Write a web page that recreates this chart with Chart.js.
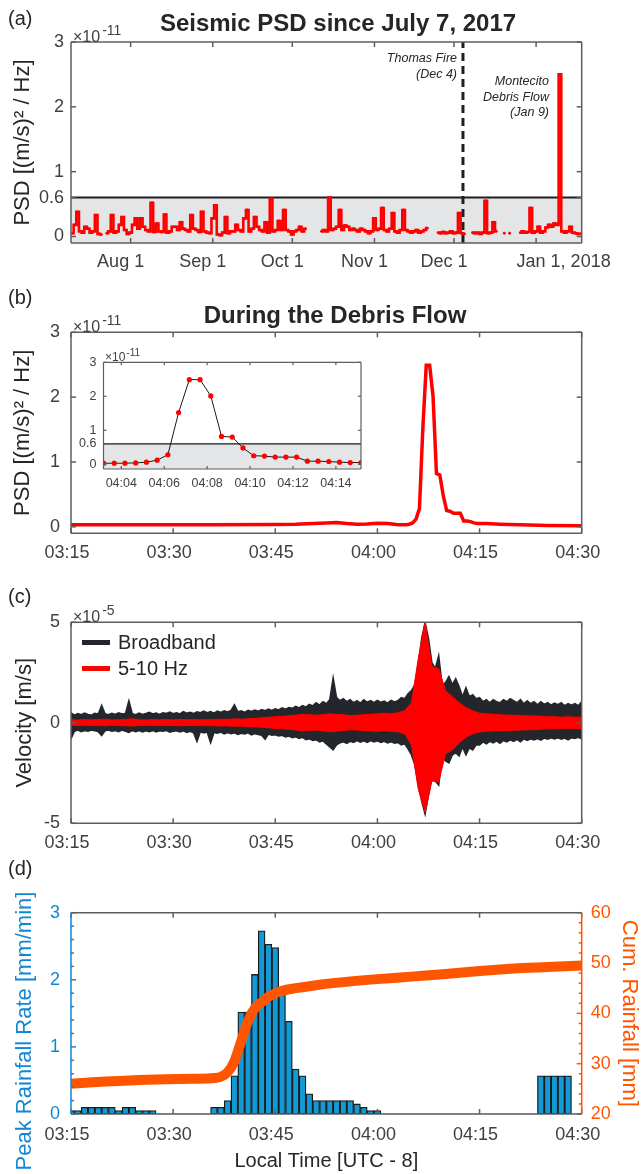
<!DOCTYPE html>
<html>
<head>
<meta charset="utf-8">
<title>Seismic PSD and rainfall, Montecito debris flow</title>
<script src="https://cdn.jsdelivr.net/npm/chart.js@4.4.1/dist/chart.umd.min.js"></script>
<style>
  body { margin: 0; background: #fff; font-family: "Liberation Sans", Arial, sans-serif; color: #262626; }
  #page { position: relative; width: 642px; height: 1174px; overflow: hidden; }
  canvas { position: absolute; left: 0; }
  .txt { position: absolute; white-space: nowrap; line-height: 1; }
  .panel { font-size: 20px; left: 8px; }
  .title { font-size: 24px; font-weight: bold; transform: translateX(-50%); }
  .exp { font-size: 16px; color: #404040; }
  .exp sup { font-size: 14px; vertical-align: 7px; margin-left: 2px; }
  .exp.small { font-size: 12px; }
  .exp.small sup { font-size: 10px; vertical-align: 5px; margin-left: 1px; }
  .note { font-size: 12.5px; font-style: italic; text-align: right; }
  .leg { font-size: 20px; left: 82px; top: 629px; line-height: 26px; }
  .leg i { display: inline-block; width: 28px; height: 5px; vertical-align: middle; margin: -3px 8px 0 0; }
  .vtitle { font-size: 22px; transform: translate(-50%, -50%) rotate(-90deg); }
</style>
</head>
<body>
<div id="page">
  <canvas id="chartA" width="642" height="285" style="top:0"></canvas>
  <canvas id="chartB" width="642" height="285" style="top:290px"></canvas>
  <canvas id="chartInset" width="330" height="145" style="top:350px;left:40px"></canvas>
  <canvas id="chartC" width="642" height="280" style="top:580px"></canvas>
  <canvas id="chartD" width="642" height="304" style="top:870px"></canvas>

  <div class="txt panel" style="top:8px">(a)</div>
  <div class="txt panel" style="top:287px">(b)</div>
  <div class="txt panel" style="top:586px">(c)</div>
  <div class="txt panel" style="top:858px">(d)</div>

  <div class="txt title" style="left:338px;top:11px">Seismic PSD since July 7, 2017</div>
  <div class="txt title" style="left:335px;top:303px">During the Debris Flow</div>

  <div class="txt exp" style="left:73px;top:23px">×10<sup>-11</sup></div>
  <div class="txt exp" style="left:73px;top:313px">×10<sup>-11</sup></div>
  <div class="txt exp" style="left:73px;top:603px">×10<sup>-5</sup></div>
  <div class="txt exp small" style="left:105px;top:348px">×10<sup>-11</sup></div>

  <div class="txt note" style="right:185px;top:50px;line-height:16px">Thomas Fire<br>(Dec 4)</div>
  <div class="txt note" style="right:93px;top:74px;line-height:15.5px">Montecito<br>Debris Flow<br>(Jan 9)</div>

  <div class="txt leg">
    <div><i style="background:#23262b"></i>Broadband</div>
    <div><i style="background:#ff0000"></i>5-10 Hz</div>
  </div>

  <div class="txt vtitle" style="left:24px;top:1031px;color:#1287d4">Peak Rainfall Rate [mm/min]</div>
</div>

<script>
// ---- (a) daily seismic PSD, x10^-11 (m/s)^2/Hz, days counted from Jul 1 2017
const dailyStartDay = 9;
const dailyPsd = [
  0.05, 0.18, 0.38, 0.08, 0.06, 0.15, 0.12, 0.06, 0.08, 0.33,
  0.04, 0.03, null, 0.05, 0.08, 0.33, 0.06, 0.08, 0.18, 0.30,
  0.10, 0.04, 0.06, 0.18, 0.28, 0.12, 0.28, 0.15, 0.10, 0.08,
  0.52, 0.07, 0.20, 0.08, 0.07, 0.34, 0.06, 0.08, 0.15, 0.15,
  0.10, 0.22, 0.12, 0.10, 0.08, 0.33, 0.12, 0.10, 0.07, 0.38,
  0.08, 0.06, 0.05, 0.28, 0.48, 0.03, 0.02, 0.06, 0.30, 0.05,
  0.08, 0.08, 0.18, 0.10, 0.08, 0.28, 0.41, 0.08, 0.12, 0.30,
  0.15, 0.10, 0.08, 0.22, 0.06, 0.58, 0.08, 0.10, 0.24, 0.10,
  0.41, 0.10, 0.08, 0.03, 0.08, 0.10, 0.15, 0.08, 0.12, null,
  null, null, null, null, 0.08, 0.10, 0.08, 0.60, 0.10, 0.12,
  0.15, 0.41, 0.10, 0.17, 0.15, 0.10, 0.12, 0.10, 0.08, 0.12,
  0.10, 0.08, 0.05, 0.08, 0.28, 0.10, 0.12, 0.44, 0.10, 0.08,
  0.12, 0.36, 0.08, 0.06, 0.10, 0.41, 0.10, 0.08, 0.06, 0.08,
  0.10, 0.06, 0.08, 0.10, 0.13, null, null, null, 0.06, 0.05,
  0.07, 0.05, 0.06, 0.08, 0.05, 0.06, 0.36, 0.05, 0.04, null,
  null, 0.06, 0.05, 0.06, 0.04, 0.06, 0.55, 0.05, 0.06, 0.22,
  0.08, null, null, 0.05, null, 0.05, null, null, null, 0.06,
  0.08, 0.06, 0.07, 0.44, 0.06, 0.08, 0.15, 0.06, 0.08, 0.14,
  0.18, 0.15, 0.20, 0.18, 2.50, 0.08, 0.06, 0.08, 0.15, 0.06,
  0.05, 0.04, 0.04
];
const dayMin = 8.5, dayMax = 201.2;
const monthTickDays = [31, 62, 92, 123, 153, 184];
const monthTickLabels = ['Aug 1', 'Sep 1', 'Oct 1', 'Nov 1', 'Dec 1',
  '\u00a0'.repeat(15) + 'Jan 1, 2018'];
const thomasFireDay = 156.4;
const psdThreshold = 0.6;
const psdTicks = [0, 0.6, 1, 2, 3];
const psdTickLabels = ['0', '0.6', '1', '2', '3'];

// ---- (b) PSD during the event, minutes after 03:15
const psdEarlyMin = [0, 10, 20, 30, 33, 35.5, 37.5, 39, 40.5, 42, 43.5, 45, 46.5, 47.5];
const psdEarly = [0.03, 0.03, 0.03, 0.035, 0.04, 0.05, 0.06, 0.065, 0.05, 0.04, 0.045, 0.055, 0.05, 0.04];
// 30 s samples shown in the inset (minutes after 04:00)
const insetStartMin = 3.17;
const insetStep = 0.5;
const insetPsd = [0.03, 0.03, 0.03, 0.04, 0.06, 0.12, 0.28, 1.52, 2.49, 2.49,
  2.01, 0.82, 0.80, 0.48, 0.25, 0.24, 0.21, 0.21, 0.21, 0.09,
  0.09, 0.08, 0.06, 0.05, 0.05];
const psdLateMin = [61, 63, 66, 70, 75];
const psdLate = [0.05, 0.04, 0.03, 0.02, 0.015];
const insetTickMin = [4, 6, 8, 10, 12, 14];
const insetTickLabels = ['04:04', '04:06', '04:08', '04:10', '04:12', '04:14'];

const timeTicks = [0, 15, 30, 45, 60, 75];
const timeTickLabels = ['03:15', '03:30', '03:45', '04:00', '04:15', '04:30'];

// ---- (c) velocity envelopes, x10^-5 m/s from 03:15
// broadband: one value every 30 s
const bbStep = 0.5;
const bbUpper = [
  0.50, 0.38, 0.46, 0.40, 0.48, 0.42, 0.38, 0.47, 0.44, 0.87, 0.45, 0.40, 0.47, 0.42, 0.50, 0.44, 0.46, 1.10, 0.45, 0.40,
  0.48, 0.42, 0.46, 0.52, 0.44, 0.48, 0.42, 0.50, 0.46, 0.53, 0.45, 0.50, 0.44, 0.56, 0.48, 0.52, 0.46, 0.55, 0.50, 0.58,
  0.50, 0.56, 0.48, 0.58, 0.52, 0.60, 0.54, 0.62, 0.90, 0.55, 0.60, 0.52, 0.62, 0.56, 0.64, 0.58, 0.66, 0.60, 0.68, 0.62,
  0.70, 0.64, 0.74, 0.68, 0.76, 0.72, 0.82, 0.74, 0.86, 0.78, 0.92, 0.84, 1.00, 0.88, 1.05, 0.95, 1.15, 2.25, 1.25, 1.10,
  1.20, 1.05, 1.15, 1.00, 1.10, 0.98, 1.15, 1.02, 1.10, 1.00, 1.12, 1.02, 1.08, 0.98, 1.12, 1.04, 1.10, 1.25, 1.20, 1.45,
  1.60, 1.90, 2.90, 4.20, 5.00, 4.20, 3.00, 2.70, 3.35, 1.90, 2.00, 2.30, 1.90, 2.20, 1.80, 1.30, 1.75, 1.30, 1.40, 1.20,
  1.25, 1.05, 1.15, 1.00, 1.15, 1.05, 1.00, 1.15, 1.05, 1.20, 1.10, 1.00, 1.15, 0.95, 1.10, 0.95, 1.05, 0.90, 1.05, 0.92,
  1.00, 0.88, 0.98, 0.90, 1.00, 0.85, 0.95, 0.88, 0.95, 0.85, 1.05
];
const bbLower = [
  -0.80, -0.42, -0.36, -0.44, -0.38, -0.42, -0.36, -0.40, -0.44, -0.63, -0.40, -0.36, -0.42, -0.38, -0.44, -0.36, -0.42, -0.48, -0.38, -0.44,
  -0.38, -0.45, -0.40, -0.44, -0.38, -0.46, -0.40, -0.42, -0.38, -0.47, -0.42, -0.40, -0.46, -0.40, -0.48, -0.42, -0.50, -0.93, -0.45, -0.50,
  -0.46, -1.00, -0.48, -0.52, -0.46, -0.55, -0.48, -0.54, -0.50, -0.58, -0.52, -0.56, -0.50, -0.60, -0.54, -0.58, -0.62, -0.82, -0.56, -0.62,
  -0.60, -0.66, -0.62, -0.70, -0.66, -0.74, -0.70, -0.78, -0.72, -0.84, -0.80, -0.88, -0.84, -0.95, -0.90, -1.05, -1.20, -1.35, -1.10, -1.00,
  -0.95, -1.02, -0.92, -0.98, -0.88, -0.96, -0.90, -0.98, -0.88, -0.95, -0.90, -0.98, -0.92, -1.00, -0.94, -1.02, -0.98, -1.10, -1.05, -1.30,
  -1.60, -2.10, -3.10, -3.90, -4.55, -3.60, -2.70, -2.90, -3.10, -1.70, -1.90, -2.00, -1.60, -1.50, -1.65, -1.20, -1.60, -1.25, -1.35, -1.10,
  -1.10, -0.95, -1.05, -0.92, -1.00, -0.90, -1.02, -0.88, -0.95, -0.85, -0.92, -0.82, -0.95, -0.80, -0.88, -0.80, -0.85, -0.78, -0.86, -0.76,
  -0.82, -0.75, -0.80, -0.74, -0.82, -0.76, -0.85, -0.74, -0.78, -0.72, -0.80
];
// 5-10 Hz band: one value per minute
const hfUpper = [
  0.15, 0.14, 0.16, 0.15, 0.16, 0.18, 0.14, 0.15, 0.17, 0.20,
  0.15, 0.14, 0.16, 0.15, 0.16, 0.15, 0.17, 0.15, 0.16, 0.15,
  0.17, 0.16, 0.18, 0.17, 0.20, 0.18, 0.20, 0.22, 0.25, 0.28,
  0.30, 0.32, 0.35, 0.38, 0.42, 0.40, 0.38, 0.40, 0.45, 0.42,
  0.40, 0.36, 0.38, 0.40, 0.42, 0.45, 0.48, 0.45, 0.50, 0.60,
  1.00, 3.20, 5.00, 2.80, 2.70, 1.60, 1.30, 1.00, 0.75, 0.60,
  0.48, 0.45, 0.42, 0.40, 0.38, 0.38, 0.36, 0.35, 0.34, 0.33,
  0.30, 0.30, 0.28, 0.30, 0.28, 0.28
];
const hfLower = [
  -0.13, -0.14, -0.12, -0.13, -0.14, -0.15, -0.12, -0.13, -0.15, -0.16,
  -0.13, -0.12, -0.14, -0.13, -0.14, -0.13, -0.15, -0.13, -0.14, -0.13,
  -0.15, -0.14, -0.16, -0.15, -0.18, -0.16, -0.18, -0.20, -0.22, -0.25,
  -0.28, -0.30, -0.33, -0.36, -0.40, -0.38, -0.36, -0.40, -0.45, -0.42,
  -0.38, -0.35, -0.36, -0.38, -0.40, -0.42, -0.40, -0.42, -0.45, -0.55,
  -1.10, -3.30, -4.45, -2.90, -2.95, -1.55, -1.35, -1.00, -0.72, -0.55,
  -0.46, -0.42, -0.40, -0.40, -0.38, -0.38, -0.36, -0.35, -0.34, -0.32,
  -0.30, -0.30, -0.30, -0.28, -0.30, -0.28
];
const velTicks = [-5, 0, 5];
const velTickLabels = ['-5', '0', '5'];

// ---- (d) rainfall: peak rate per minute (mm/min) and cumulative (mm)
const rainRate = [
  0.05, 0.05, 0.10, 0.10, 0.10, 0.10, 0.10, 0.05, 0.10, 0.10,
  0.05, 0.05, 0.05, 0, 0, 0, 0, 0, 0, 0,
  0, 0.10, 0.10, 0.20, 0.57, 1.52, 1.52, 2.08, 2.73, 2.53,
  2.48, 1.87, 1.38, 0.67, 0.57, 0.30, 0.20, 0.20, 0.20, 0.20,
  0.20, 0.20, 0.15, 0.10, 0.05, 0.05, 0, 0, 0, 0,
  0, 0, 0, 0, 0, 0, 0, 0, 0, 0,
  0, 0, 0, 0, 0, 0, 0, 0, 0, 0.57,
  0.57, 0.57, 0.57, 0.57, 0, 0
];
const cumMin = [0, 3, 6, 10, 14, 18, 21, 22, 23, 24, 25, 26, 27, 28, 29, 30, 31, 33, 36, 40, 45, 50, 55, 60, 65, 70, 75];
const cumRain = [26.0, 26.3, 26.5, 26.75, 26.9, 27.0, 27.15, 27.4, 28.3, 30.5, 34.5, 38.5, 41.0, 42.2, 43.3, 44.0, 44.5, 45.0, 45.6, 46.2, 46.8, 47.3, 47.8, 48.4, 48.9, 49.2, 49.5];
const rateTicks = [0, 1, 2, 3];
const cumTicks = [20, 30, 40, 50, 60];

const AXIS = '#5e5e5e';
const BLUE = '#1287d4';
const ORANGE = '#ff5500';

Chart.defaults.font.family = '"Liberation Sans", Arial, Helvetica, sans-serif';
Chart.defaults.color = '#404040';
Chart.defaults.animation = false;
Chart.defaults.events = [];
Chart.defaults.plugins.legend.display = false;
Chart.defaults.plugins.tooltip.enabled = false;

// MATLAB-like box: frame plus inward ticks on all sides
const matlabBox = {
  id: 'matlabBox',
  afterDatasetsDraw(chart, args, o) {
    const { ctx, chartArea: a } = chart;
    const xs = chart.scales.x;
    ctx.save();
    ctx.lineWidth = o.width;
    const seg = (c, x1, y1, x2, y2) => {
      ctx.strokeStyle = c;
      ctx.beginPath(); ctx.moveTo(x1, y1); ctx.lineTo(x2, y2); ctx.stroke();
    };
    xs.ticks.forEach(t => {
      const p = xs.getPixelForValue(t.value);
      seg(o.color, p, a.bottom, p, a.bottom - o.len);
      seg(o.color, p, a.top, p, a.top + o.len);
    });
    o.sides.forEach(sd => {
      const s = chart.scales[sd.scale];
      const edge = sd.side === 'left' ? a.left : a.right;
      const dir = sd.side === 'left' ? 1 : -1;
      s.ticks.forEach(t => {
        const p = s.getPixelForValue(t.value);
        seg(sd.color, edge, p, edge + dir * o.len, p);
      });
      (sd.minor || []).forEach(v => {
        const p = s.getPixelForValue(v);
        seg(sd.color, edge, p, edge + dir * o.len * 0.6, p);
      });
    });
    seg(o.color, a.left, a.top, a.right, a.top);
    seg(o.color, a.left, a.bottom, a.right, a.bottom);
    seg(o.leftColor || o.color, a.left, a.top, a.left, a.bottom);
    seg(o.rightColor || o.color, a.right, a.top, a.right, a.bottom);
    ctx.restore();
  }
};

function fixTicks(values) {
  return s => { s.ticks = values.map(v => ({ value: v })); };
}
function fitX(h) {
  return s => { s.height = h; s.paddingLeft = 0; s.paddingRight = 0; };
}
function fitY(w) {
  return s => { s.width = w; s.paddingTop = 0; s.paddingBottom = 0; };
}
function labelFrom(values, labels) {
  return v => labels[values.indexOf(v)];
}
function timeAxis(h, pad) {
  return {
    type: 'linear', min: 0, max: 75, offset: false,
    grid: { display: false, drawTicks: false }, border: { display: false },
    afterBuildTicks: fixTicks(timeTicks), afterFit: fitX(h),
    ticks: { autoSkip: false, maxRotation: 0, padding: pad, labelOffset: -4,
      font: { size: 18 }, callback: labelFrom(timeTicks, timeTickLabels) }
  };
}
function yTitle(text, pad, color) {
  return { display: true, text: text, color: color || '#262626', font: { size: 22 }, padding: { top: pad, bottom: 0 } };
}

// ---------- (a)
const psdSeries = dailyPsd.map((v, i) => ({ x: dailyStartDay + i, y: v }));
new Chart(document.getElementById('chartA'), {
  type: 'line',
  data: {
    datasets: [
      { data: psdSeries, borderColor: '#ff0000', borderWidth: 2.6, stepped: 'middle', pointRadius: 1.4,
        pointBackgroundColor: '#ff0000', pointBorderWidth: 0, spanGaps: false, fill: false },
      { data: [{ x: thomasFireDay, y: -0.1 }, { x: thomasFireDay, y: 3 }],
        borderColor: '#1f1f1f', borderWidth: 3, borderDash: [8, 5], pointRadius: 0, fill: false },
      { data: [{ x: dayMin, y: psdThreshold }, { x: dayMax, y: psdThreshold }],
        borderColor: '#1f1f1f', borderWidth: 2, pointRadius: 0,
        fill: 'start', backgroundColor: '#e4e5e7' }
    ]
  },
  options: {
    responsive: false,
    layout: { padding: { top: 42, right: 60.3, left: 0, bottom: 0 } },
    scales: {
      x: {
        type: 'linear', min: dayMin, max: dayMax,
        grid: { display: false, drawTicks: false }, border: { display: false },
        afterBuildTicks: fixTicks(monthTickDays), afterFit: fitX(42),
        ticks: { autoSkip: false, maxRotation: 0, padding: 8, labelOffset: -10,
          font: { size: 18 }, callback: labelFrom(monthTickDays, monthTickLabels) }
      },
      y: {
        min: -0.1, max: 3,
        grid: { display: false, drawTicks: false }, border: { display: false },
        afterBuildTicks: fixTicks(psdTicks), afterFit: fitY(71),
        ticks: { autoSkip: false, padding: 7, font: { size: 18 },
          callback: labelFrom(psdTicks, psdTickLabels) },
        title: yTitle('PSD [(m/s)\u00b2 / Hz]', 10)
      }
    },
    plugins: {
      matlabBox: { color: AXIS, width: 1.5, len: 5,
        sides: [{ scale: 'y', side: 'left', color: AXIS }, { scale: 'y', side: 'right', color: AXIS }] }
    }
  },
  plugins: [matlabBox]
});

// ---------- (b)
const psdEvent = []
  .concat(psdEarlyMin.map((m, i) => ({ x: m, y: psdEarly[i] })))
  .concat(insetPsd.map((v, i) => ({ x: 45 + insetStartMin + i * insetStep, y: v })))
  .concat(psdLateMin.map((m, i) => ({ x: m, y: psdLate[i] })));
new Chart(document.getElementById('chartB'), {
  type: 'line',
  data: {
    datasets: [
      { data: psdEvent, borderColor: '#ff0000', borderWidth: 3.5, pointRadius: 0, fill: false }
    ]
  },
  options: {
    responsive: false,
    layout: { padding: { top: 42.3, right: 60.3, left: 0, bottom: 0 } },
    scales: {
      x: timeAxis(41.7, 9),
      y: {
        min: -0.1, max: 3,
        grid: { display: false, drawTicks: false }, border: { display: false },
        afterBuildTicks: fixTicks([0, 1, 2, 3]), afterFit: fitY(71),
        ticks: { autoSkip: false, padding: 11, font: { size: 18 } },
        title: yTitle('PSD [(m/s)\u00b2 / Hz]', 10)
      }
    },
    plugins: {
      matlabBox: { color: AXIS, width: 1.5, len: 5,
        sides: [{ scale: 'y', side: 'left', color: AXIS }, { scale: 'y', side: 'right', color: AXIS }] }
    }
  },
  plugins: [matlabBox]
});

// ---------- (b) inset
const insetEnd = insetStartMin + (insetPsd.length - 1) * insetStep;
new Chart(document.getElementById('chartInset'), {
  type: 'line',
  data: {
    datasets: [
      { data: insetPsd.map((v, i) => ({ x: insetStartMin + i * insetStep, y: v })),
        borderColor: '#1a1a1a', borderWidth: 1, pointRadius: 2.6,
        pointBackgroundColor: '#ff0000', pointBorderColor: '#ff0000', pointBorderWidth: 0, fill: false },
      { data: [{ x: insetStartMin, y: psdThreshold }, { x: insetEnd, y: psdThreshold }],
        borderColor: '#1a1a1a', borderWidth: 1.2, pointRadius: 0,
        fill: 'start', backgroundColor: '#e4e5e7' }
    ]
  },
  options: {
    responsive: false,
    layout: { padding: { top: 12.3, right: 9, left: 0, bottom: 0 } },
    scales: {
      x: {
        type: 'linear', min: insetStartMin, max: insetEnd,
        grid: { display: false, drawTicks: false }, border: { display: false },
        afterBuildTicks: fixTicks(insetTickMin), afterFit: fitX(26),
        ticks: { autoSkip: false, maxRotation: 0, padding: 7, font: { size: 12.5 },
          callback: labelFrom(insetTickMin, insetTickLabels) }
      },
      y: {
        min: -0.14, max: 3,
        grid: { display: false, drawTicks: false }, border: { display: false },
        afterBuildTicks: fixTicks(psdTicks), afterFit: fitY(63.5),
        ticks: { autoSkip: false, padding: 7, font: { size: 12.5 },
          callback: labelFrom(psdTicks, psdTickLabels) }
      }
    },
    plugins: {
      matlabBox: { color: AXIS, width: 1.2, len: 3,
        sides: [{ scale: 'y', side: 'left', color: AXIS }, { scale: 'y', side: 'right', color: AXIS }] }
    }
  },
  plugins: [matlabBox]
});

// ---------- (c)
const perMinute = arr => arr.map((v, i) => ({ x: i, y: v }));
const perHalfMinute = arr => arr.map((v, i) => ({ x: i * bbStep, y: v }));
new Chart(document.getElementById('chartC'), {
  type: 'line',
  data: {
    datasets: [
      { label: '5-10 Hz', data: perMinute(hfUpper), borderColor: '#ff0000', backgroundColor: '#ff0000',
        borderWidth: 1, pointRadius: 0, fill: '+1' },
      { data: perMinute(hfLower), borderColor: '#ff0000', borderWidth: 1, pointRadius: 0, fill: false },
      { label: 'Broadband', data: perHalfMinute(bbUpper), borderColor: '#23262b', backgroundColor: '#23262b',
        borderWidth: 1.5, pointRadius: 0, fill: '+1' },
      { data: perHalfMinute(bbLower), borderColor: '#23262b', borderWidth: 1.5, pointRadius: 0, fill: false }
    ]
  },
  options: {
    responsive: false,
    layout: { padding: { top: 42.3, right: 60.3, left: 0, bottom: 0 } },
    scales: {
      x: timeAxis(36.7, 9),
      y: {
        min: -5, max: 5,
        grid: { display: false, drawTicks: false }, border: { display: false },
        afterBuildTicks: fixTicks(velTicks), afterFit: fitY(71),
        ticks: { autoSkip: false, padding: 11, font: { size: 18 },
          callback: labelFrom(velTicks, velTickLabels) },
        title: yTitle('Velocity [m/s]', 12)
      }
    },
    plugins: {
      matlabBox: { color: AXIS, width: 1.5, len: 5,
        sides: [{ scale: 'y', side: 'left', color: AXIS }, { scale: 'y', side: 'right', color: AXIS }] }
    }
  },
  plugins: [matlabBox]
});

// ---------- (d)
const rateMinor = [], cumMinor = [];
for (let v = 0.2; v < 3; v += 0.2) if (Math.abs(v - Math.round(v)) > 0.01) rateMinor.push(v);
for (let v = 22; v < 60; v += 2) if (v % 10 !== 0) cumMinor.push(v);
new Chart(document.getElementById('chartD'), {
  data: {
    datasets: [
      { type: 'line', data: cumMin.map((m, i) => ({ x: m, y: cumRain[i] })), yAxisID: 'y1',
        borderColor: ORANGE, borderWidth: 10, pointRadius: 0, cubicInterpolationMode: 'monotone', fill: false },
      { type: 'bar', data: perMinute(rainRate), yAxisID: 'y',
        backgroundColor: '#1399d6', borderColor: '#1c1c1c',
        borderWidth: c => (c.raw && c.raw.y > 0 ? 1.3 : 0), borderSkipped: false,
        barPercentage: 1, categoryPercentage: 1 }
    ]
  },
  options: {
    responsive: false,
    layout: { padding: { top: 42.7, right: 0, left: 0, bottom: 0 } },
    scales: {
      x: Object.assign(timeAxis(60, 10), {
        title: { display: true, text: 'Local Time [UTC - 8]', color: '#262626',
          font: { size: 20 }, padding: { top: 0, bottom: 1 } }
      }),
      y: {
        position: 'left', min: 0, max: 3,
        grid: { display: false, drawTicks: false }, border: { display: false },
        afterBuildTicks: fixTicks(rateTicks), afterFit: fitY(71),
        ticks: { autoSkip: false, padding: 11, color: BLUE, font: { size: 18 } }
      },
      y1: {
        position: 'right', min: 20, max: 60,
        grid: { display: false, drawTicks: false }, border: { display: false },
        afterBuildTicks: fixTicks(cumTicks), afterFit: fitY(60.3),
        ticks: { autoSkip: false, padding: 9, color: ORANGE, font: { size: 18 } },
        title: yTitle('Cum. Rainfall [mm]', 0, ORANGE)
      }
    },
    plugins: {
      matlabBox: { color: AXIS, width: 1.5, len: 5, leftColor: BLUE, rightColor: ORANGE,
        sides: [{ scale: 'y', side: 'left', color: BLUE, minor: rateMinor },
                { scale: 'y1', side: 'right', color: ORANGE, minor: cumMinor }] }
    }
  },
  plugins: [matlabBox]
});
</script>
</body>
</html>
